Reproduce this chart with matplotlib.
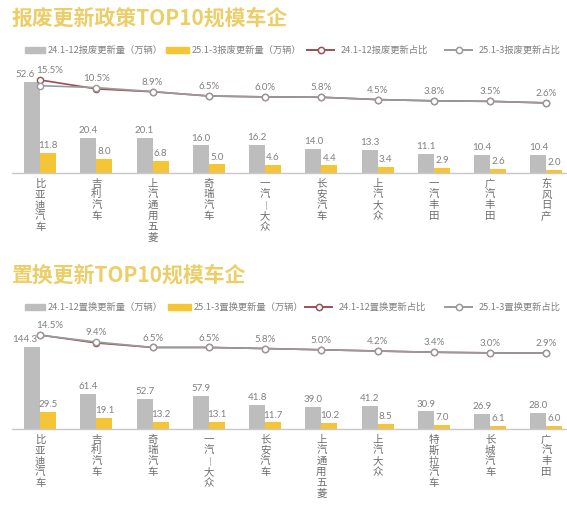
import numpy as np
import matplotlib.pyplot as plt
from matplotlib.patches import Rectangle
from matplotlib.lines import Line2D

plt.rcParams['font.family'] = ['Noto Sans CJK SC', 'DejaVu Sans']

# top panel: scrappage renewal
cats1 = ['比亚迪汽车', '吉利汽车', '上汽通用五菱', '奇瑞汽车', '一汽︱大众',
         '长安汽车', '上汽大众', '一汽丰田', '广汽丰田', '东风日产']
vol24_1 = [52.6, 20.4, 20.1, 16.0, 16.2, 14.0, 13.3, 11.1, 10.4, 10.4]
vol25_1 = [11.8, 8.0, 6.8, 5.0, 4.6, 4.4, 3.4, 2.9, 2.6, 2.0]
pct24_1 = [15.5, 10.5, 8.9, 6.5, 6.0, 5.8, 4.5, 3.8, 3.5, 2.6]
pct25_1 = [12.3, 11.2, 9.0, 6.5, 6.0, 5.8, 4.5, 3.8, 3.5, 2.7]
legend1 = ['24.1-12报废更新量（万辆）', '25.1-3报废更新量（万辆）',
           '24.1-12报废更新占比', '25.1-3报废更新占比']

# bottom panel: replacement renewal
cats2 = ['比亚迪汽车', '吉利汽车', '奇瑞汽车', '一汽︱大众', '长安汽车',
         '上汽通用五菱', '上汽大众', '特斯拉汽车', '长城汽车', '广汽丰田']
vol24_2 = [144.3, 61.4, 52.7, 57.9, 41.8, 39.0, 41.2, 30.9, 26.9, 28.0]
vol25_2 = [29.5, 19.1, 13.2, 13.1, 11.7, 10.2, 8.5, 7.0, 6.1, 6.0]
pct24_2 = [14.5, 9.4, 6.5, 6.5, 5.8, 5.0, 4.2, 3.4, 3.0, 2.9]
pct25_2 = [14.4, 10.0, 6.5, 6.5, 5.8, 5.0, 4.2, 3.4, 3.0, 2.9]
legend2 = ['24.1-12置换更新量（万辆）', '25.1-3置换更新量（万辆）',
           '24.1-12置换更新占比', '25.1-3置换更新占比']

W, H = 567, 512
GREY = '#bdbdbd'
YELLOW = '#f5c535'
RED = '#9c4f55'
LGREY = '#9a9a9a'
TXT = '#808080'
NUMFONT = ['Lato', 'DejaVu Sans']

fig = plt.figure(figsize=(W / 100, H / 100), dpi=100)


def fx(x):
    return x / W


def fy(y):
    return 1 - y / H


def legend_row(y, labels, xs):
    # xs: left px of yellow rect, red line, grey line
    fig.add_artist(Rectangle((fx(25), fy(y + 3)), 20 / W, 6 / H, color=GREY,
                             transform=fig.transFigure))
    fig.add_artist(Rectangle((fx(xs[0]), fy(y + 3)), 23 / W, 6 / H, color=YELLOW,
                             transform=fig.transFigure))
    for x0, c in [(xs[1], RED), (xs[2], LGREY)]:
        fig.add_artist(Line2D([fx(x0), fx(x0 + 27)], [fy(y), fy(y)], color=c, lw=1.4,
                              transform=fig.transFigure))
        fig.add_artist(Line2D([fx(x0 + 13.5)], [fy(y)], color=c, marker='o', ms=4.5,
                              mfc='white', mew=1.1, transform=fig.transFigure))
    for tx, lab in zip([48, xs[0] + 26, xs[1] + 34, xs[2] + 34], labels):
        fig.text(fx(tx), fy(y), lab, fontsize=6.7, color=TXT, va='center', ha='left')


def panel(base, top, title, title_y, labels, leg_y, leg_xs, cats, v24, v25, p24, p25,
          bar_max, line_lim):
    ax = fig.add_axes([fx(12), fy(base), 554 / W, (base - top) / H])
    x = np.arange(len(cats))
    bw = 0.285
    b1 = ax.bar(x - bw / 2, v24, bw, color=GREY)
    b2 = ax.bar(x + bw / 2, v25, bw, color=YELLOW)
    ax.set_xlim(-0.5, 9.35)
    ax.set_ylim(0, bar_max)
    for s in ['top', 'left', 'right']:
        ax.spines[s].set_visible(False)
    ax.spines['bottom'].set_color('#c8c8c8')
    ax.spines['bottom'].set_linewidth(1)
    ax.set_xticks([])
    ax.set_yticks([])
    for i, r in enumerate(b1):
        dx = -5 if i == 0 else 0
        ax.annotate(f'{v24[i]:.1f}', (r.get_x() + r.get_width() / 2, r.get_height()),
                    xytext=(dx, 2), textcoords='offset points', ha='center', va='bottom',
                    fontsize=7, color=TXT, family=NUMFONT)
    for i, r in enumerate(b2):
        ax.annotate(f'{v25[i]:.1f}', (r.get_x() + r.get_width() / 2, r.get_height()),
                    xytext=(0, 2), textcoords='offset points', ha='center', va='bottom',
                    fontsize=7, color=TXT, family=NUMFONT)
    for i, c in enumerate(cats):
        ax.annotate('\n'.join(c), (i, 0), xytext=(0, -4), textcoords='offset points',
                    ha='center', va='top', fontsize=7.5, color='#6e6e6e', linespacing=1.1)

    ax2 = ax.twinx()
    ax2.set_ylim(*line_lim)
    ax2.axis('off')
    ax2.plot(x, p24, color=RED, lw=1.2, marker='o', ms=4.5, mfc='white', mew=1.0)
    ax2.plot(x, p25, color=LGREY, lw=1.2, marker='o', ms=4.5, mfc='white', mew=1.0)
    for i in range(len(cats)):
        dx = 7 if i == 0 else 0
        ax2.annotate(f'{p24[i]:.1f}%', (i, max(p24[i], p25[i])), xytext=(dx, 3.5),
                     textcoords='offset points', ha='center', va='bottom',
                     fontsize=7, color=TXT, family=NUMFONT)

    fig.text(fx(12), fy(title_y), title, fontsize=15, color='#eccd66',
             fontweight='bold', va='center', ha='left')
    legend_row(leg_y, labels, leg_xs)


panel(173, 65, '报废更新政策TOP10规模车企', 18, legend1, 50, [166, 307, 445],
      cats1, vol24_1, vol25_1, pct24_1, pct25_1, 62.4, (-36.7, 23.9))
panel(429, 320, '置换更新TOP10规模车企', 275, legend2, 307, [168, 305, 445],
      cats2, vol24_2, vol25_2, pct24_2, pct25_2, 191.9, (-46.1, 24.2))

fig.savefig('out.png', dpi=100, facecolor='white')
